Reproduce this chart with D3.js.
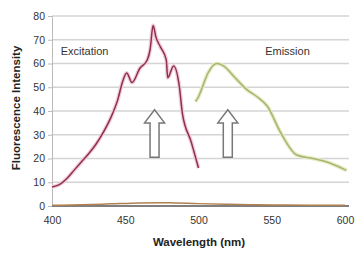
<!DOCTYPE html>
<html>
<head>
<meta charset="utf-8">
<script src="https://cdn.jsdelivr.net/npm/d3@7"></script>
<style>
  body { margin: 0; background: #fff; }
  text { font-family: "Liberation Sans", Arial, sans-serif; }
</style>
</head>
<body>
<svg id="viz" width="359" height="254"></svg>
<script>
// Fluorescence spectra

var yTicks = [0, 10, 20, 30, 40, 50, 60, 70, 80];
var xTicks = [400, 450, 500, 550, 600];

var excitationWl = [400, 405, 410, 415, 420, 425, 430, 435, 440, 445, 448, 451, 454.6, 460, 465, 467, 469, 471, 474, 478, 479, 483, 487, 489, 495, 500];
var excitationVal = [8, 9, 11.5, 15, 18.5, 22, 26, 31, 37, 45, 52, 56, 52, 58, 61.5, 66, 76, 71, 67, 61.5, 54, 59, 50, 39, 27, 16];

var emissionWl = [498, 500, 502, 506.5, 512.6, 517, 525, 533, 540, 547, 556, 567, 578, 590, 601];
var emissionVal = [44, 46, 49, 56, 60, 59, 54, 49, 46, 42, 31, 21.5, 20, 18, 15];

var baseWl = [400, 420, 440, 460, 480, 500, 520, 540, 560, 580, 600];
var baseVal = [0.3, 0.5, 0.9, 1.3, 1.4, 1.0, 0.7, 0.5, 0.4, 0.3, 0.3];

var labels = [{ text: "Excitation", wl: 406, v: 63.5 }, { text: "Emission", wl: 545.5, v: 63.5 }];
var arrowWl = [470, 520];

var svg = d3.select("#viz");

var x = d3.scaleLinear().domain([400, 600]).range([52, 345]);
var y = d3.scaleLinear().domain([0, 80]).range([206, 16]);

// gridlines
svg.append("g")
    .selectAll("line")
    .data(yTicks.filter(d => d > 0))
    .enter()
    .append("line")
    .attr("x1", x(400))
    .attr("x2", 349)
    .attr("y1", d => y(d))
    .attr("y2", d => y(d))
    .attr("stroke", "#d4d4d4")
    .attr("stroke-width", 1.6);

// y axis
var yAxis = d3.axisLeft(y).tickValues(yTicks).tickSize(4).tickPadding(3);
var gy = svg.append("g").attr("transform", `translate(${x(400)},0)`).call(yAxis);
gy.select(".domain").attr("stroke", "#bbb");
gy.selectAll(".tick line").attr("stroke", "#bbb");
gy.selectAll("text").attr("font-size", 10.5).attr("fill", "#333");

// x axis labels
var xAxis = d3.axisBottom(x).tickValues(xTicks).tickSize(0).tickPadding(11);
var gx = svg.append("g").attr("transform", `translate(0,${y(0)})`).call(xAxis);
gx.select(".domain").remove();
gx.selectAll("text").attr("font-size", 10.5).attr("fill", "#333");

// zero line
svg.append("line")
    .attr("x1", x(400)).attr("x2", 349)
    .attr("y1", y(0)).attr("y2", y(0))
    .attr("stroke", "#555").attr("stroke-width", 1.5);

var line = d3.line().x(d => x(d[0])).y(d => y(d[1])).curve(d3.curveMonotoneX);

svg.append("path")
    .datum(d3.zip(baseWl, baseVal))
    .attr("d", line)
    .attr("fill", "none")
    .attr("stroke", "#b08050")
    .attr("stroke-width", 1.5);

// soft glow behind excitation
svg.append("path")
    .datum(d3.zip(excitationWl, excitationVal))
    .attr("d", line)
    .attr("fill", "none")
    .attr("stroke", "#f3ccd7")
    .attr("stroke-width", 4);

svg.append("path")
    .datum(d3.zip(excitationWl, excitationVal))
    .attr("d", line)
    .attr("fill", "none")
    .attr("stroke", "#8c3050")
    .attr("stroke-width", 1.5);

svg.append("path")
    .datum(d3.zip(emissionWl, emissionVal))
    .attr("d", line)
    .attr("fill", "none")
    .attr("stroke", "#e8ecca")
    .attr("stroke-width", 4);

svg.append("path")
    .datum(d3.zip(emissionWl, emissionVal))
    .attr("d", line)
    .attr("fill", "none")
    .attr("stroke", "#abb570")
    .attr("stroke-width", 1.6);

// up arrows
svg.append("g")
    .selectAll("path")
    .data(arrowWl)
    .enter()
    .append("path")
    .attr("d", d => {
        var cx = x(d), top = y(40.5), headB = y(35), bot = y(20.5);
        return `M${cx},${top} L${cx + 10},${headB} L${cx + 4.5},${headB} L${cx + 4.5},${bot} ` +
            `L${cx - 4.5},${bot} L${cx - 4.5},${headB} L${cx - 10},${headB} Z`;
    })
    .attr("fill", "#fff")
    .attr("stroke", "#777")
    .attr("stroke-width", 1.5);

// series labels
svg.append("g")
    .selectAll("text")
    .data(labels)
    .enter()
    .append("text")
    .attr("x", d => x(d.wl))
    .attr("y", d => y(d.v))
    .attr("font-size", 11)
    .attr("fill", "#333")
    .text(d => d.text);

// axis titles
svg.append("text")
    .attr("x", 199)
    .attr("y", 246)
    .attr("text-anchor", "middle")
    .attr("font-size", 11.5)
    .attr("font-weight", 700)
    .attr("fill", "#222")
    .text("Wavelength (nm)");

svg.append("text")
    .attr("transform", "translate(20,108) rotate(-90)")
    .attr("text-anchor", "middle")
    .attr("font-size", 11.5)
    .attr("font-weight", 700)
    .attr("fill", "#222")
    .text("Fluorescence Intensity");
</script>
</body>
</html>
